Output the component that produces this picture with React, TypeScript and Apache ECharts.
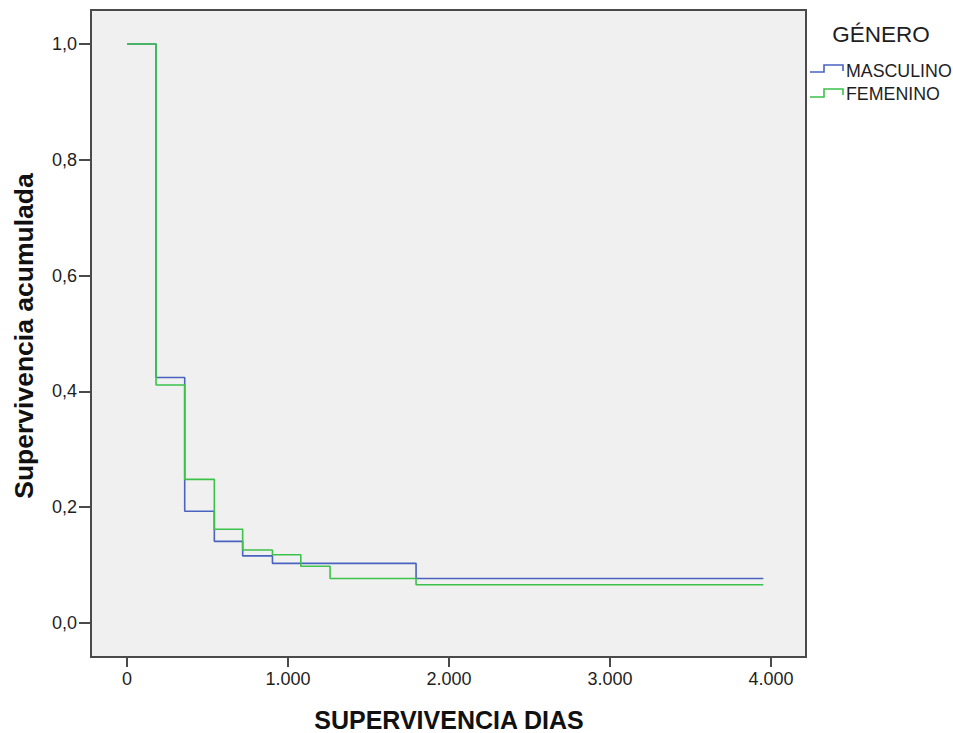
import React, { useEffect, useRef } from "react";
import * as echarts from "echarts";

// Kaplan-Meier steps: time of each drop (days) and the cumulative survival after it
const maleDays = [0, 180, 358, 542, 718, 903, 1795, 3952];
const maleSurv = [1.0, 0.424, 0.193, 0.141, 0.116, 0.103, 0.077, 0.077];
const femaleDays = [0, 180, 358, 542, 718, 903, 1079, 1261, 1795, 3952];
const femaleSurv = [1.0, 0.411, 0.248, 0.162, 0.126, 0.118, 0.098, 0.077, 0.066, 0.066];

const xTicks = [0, 1000, 2000, 3000, 4000];
const yTicks = [0, 0.2, 0.4, 0.6, 0.8, 1.0];

const seriesNames = ["MASCULINO", "FEMENINO"];
const legendTitle = "GÉNERO";
const xTitle = "SUPERVIVENCIA DIAS";
const yTitle = "Supervivencia acumulada";

const BLUE = "#4a62c0";
const GREEN = "#3cc24a";
const FONT = "'Liberation Sans', Arial, sans-serif";

const pairs = (xs: number[], ys: number[]) => xs.map((x, i) => [x, ys[i]]);

export default function App() {
  const ref = useRef<HTMLDivElement>(null);

  useEffect(() => {
    if (!ref.current) return;
    const chart = echarts.init(ref.current, null, { renderer: "svg" });
    chart.setOption({
      animation: false,
      backgroundColor: "#ffffff",
      grid: {
        left: 91,
        top: 10,
        right: 147,
        bottom: 76,
        show: true,
        backgroundColor: "#f0f0f0",
        borderColor: "#4a4a4a",
        borderWidth: 2,
      },
      xAxis: {
        type: "value",
        min: -224,
        max: 4217,
        axisLine: { show: false, onZero: false },
        splitLine: { show: false },
        axisTick: {
          show: true,
          customValues: xTicks,
          length: 10,
          lineStyle: { color: "#4a4a4a", width: 2 },
        },
        axisLabel: {
          customValues: xTicks,
          margin: 13,
          fontFamily: FONT,
          fontSize: 18,
          color: "#1e1e1e",
          formatter: (v: number) =>
            v.toLocaleString("de-DE", { maximumFractionDigits: 0 }),
        },
      },
      yAxis: {
        type: "value",
        min: -0.0587,
        max: 1.0587,
        axisLine: { show: false, onZero: false },
        splitLine: { show: false },
        axisTick: {
          show: true,
          customValues: yTicks,
          length: 12,
          lineStyle: { color: "#4a4a4a", width: 2 },
        },
        axisLabel: {
          customValues: yTicks,
          margin: 14,
          fontFamily: FONT,
          fontSize: 18,
          color: "#1e1e1e",
          formatter: (v: number) => v.toFixed(1).replace(".", ","),
        },
      },
      series: [
        {
          name: seriesNames[0],
          type: "line",
          step: "end",
          showSymbol: false,
          data: pairs(maleDays, maleSurv),
          lineStyle: { color: BLUE, width: 1.6 },
          z: 2,
        },
        {
          name: seriesNames[1],
          type: "line",
          step: "end",
          showSymbol: false,
          data: pairs(femaleDays, femaleSurv),
          lineStyle: { color: GREEN, width: 1.6 },
          z: 3,
        },
      ],
      graphic: [
        {
          type: "text",
          x: 881,
          y: 34,
          style: {
            text: legendTitle,
            font: `22.5px ${FONT}`,
            fill: "#1e1e1e",
            align: "center",
            verticalAlign: "middle",
          },
        },
        {
          type: "polyline",
          shape: { points: [[810, 72], [824, 72], [824, 65], [843, 65], [843, 71]] },
          style: { stroke: BLUE, lineWidth: 1.6, fill: null },
        },
        {
          type: "text",
          x: 846,
          y: 71,
          style: {
            text: seriesNames[0],
            font: `17.8px ${FONT}`,
            fill: "#1e1e1e",
            align: "left",
            verticalAlign: "middle",
          },
        },
        {
          type: "polyline",
          shape: { points: [[810, 97], [824, 97], [824, 89], [843, 89], [843, 95]] },
          style: { stroke: GREEN, lineWidth: 1.6, fill: null },
        },
        {
          type: "text",
          x: 846,
          y: 94,
          style: {
            text: seriesNames[1],
            font: `17.8px ${FONT}`,
            fill: "#1e1e1e",
            align: "left",
            verticalAlign: "middle",
          },
        },
        {
          type: "text",
          x: 449,
          y: 720,
          style: {
            text: xTitle,
            font: `bold 25px ${FONT}`,
            fill: "#111111",
            align: "center",
            verticalAlign: "middle",
          },
        },
        {
          type: "text",
          x: 24,
          y: 336,
          rotation: Math.PI / 2,
          style: {
            text: yTitle,
            font: `bold 26.5px ${FONT}`,
            fill: "#111111",
            align: "center",
            verticalAlign: "middle",
          },
        },
      ],
    });
    return () => chart.dispose();
  }, []);

  return (
    <div
      ref={ref}
      style={{ position: "fixed", left: 0, top: 0, width: 953, height: 733 }}
    />
  );
}
